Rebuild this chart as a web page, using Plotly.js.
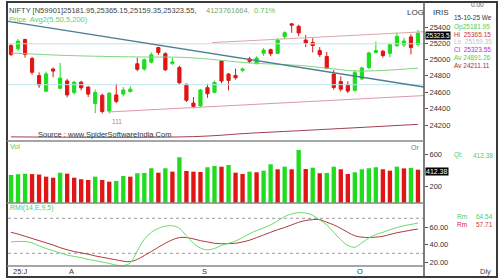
<!DOCTYPE html>
<html><head><meta charset="utf-8">
<script src="https://cdn.plot.ly/plotly-3.0.1.min.js"></script>
<style>html,body{margin:0;padding:0;background:#fff;}#chart{width:500px;height:280px;}</style>
</head><body><div id="chart"></div>
<script>
// ---------------- data ----------------
const dates = ['07-22','07-23','07-24','07-25','07-28','07-29','07-30','07-31',
 '08-01','08-04','08-05','08-06','08-07','08-08','08-11','08-12','08-13','08-14','08-18','08-19','08-20','08-21','08-22','08-25','08-26','08-28','08-29',
 '09-01','09-02','09-03','09-04','09-05','09-08','09-09','09-10','09-11','09-12','09-15','09-16','09-17','09-18','09-19','09-22','09-23','09-24','09-25','09-26','09-29','09-30',
 '10-01','10-03','10-06','10-07','10-08','10-09','10-10','10-13','10-14','10-15'];
const opens = [25170,25130,25245,25010,24800,24610,24880,24645,24735,24595,24720,24660,24460,24560,24370,24565,24575,24605,24945,24880,24965,25145,25070,24950,24900,24695,24466,24432,24653,24597,24980,24819,24802,24865,25005,24945,25075,25119,25073,25280,25441,25410,25238,25209,25108,25035,24818,24728,24691,24620,24759,24899,25085,25100,25074,25168,25177,25277,25181.95];
const highs = [25190,25250,25255,25030,24840,24850,24900,24955,24760,24735,24735,24670,24630,24580,24600,24700,24660,24670,25020,25010,25085,25155,25085,25020,24920,24700,24540,24636,24700,24740,24982,24832,24886,24895,25030,25037,25140,25132,25262,25347,25449,25430,25300,25262,25150,25092,24868,24791,24731,24867,24907,25095,25220,25115,25199,25331,25267,25310,25365.15];
const lows = [25040,25100,25020,24810,24650,24600,24780,24635,24535,24570,24620,24540,24345,24340,24340,24465,24545,24595,24855,24860,24950,25055,24860,24930,24690,24480,24404,24420,24530,24585,24706,24621,24751,24840,24950,24940,25040,25038,25070,25250,25329,25286,25151,25084,25027,24878,24629,24606,24587,24605,24747,24881,25075,25020,25024,25156,25152,25060,25159.35];
const closes = [25060,25225,25060,24840,24685,24820,24855,24770,24565,24720,24650,24575,24595,24365,24585,24487,24625,24635,24877,24995,25055,25085,24870,24968,24712,24500,24427,24625,24580,24715,24734,24741,24773,24880,24975,25015,25114,25069,25239,25330,25424,25327,25202,25170,25057,24891,24655,24635,24611,24836,24894,25078,25108,25046,25182,25285,25227,25145,25323.55];
const volumes = [347,356,362,358,352,326,313,375,363,313,294,285,326,285,264,272,334,326,368,372,430,375,430,388,566,396,388,384,442,458,449,470,375,359,388,380,400,479,417,449,417,656,421,437,368,372,449,417,359,380,417,430,442,417,400,449,428,434,412.38];
const ma50Idx = [0,8,18,24,27,34,41,46,49,53,58];
const ma50Val = [25078,25047,25029,25025,25011,24955,24925,24882,24857,24863,24891.26];
const ma200Idx = [0,26,34,41,49,58];
const ma200Val = [24062,24065,24105,24135,24170,24211.11];
const rmi = [43,43.5,43.5,42,38.5,35.5,33,30.5,28,26.5,25,23,21.5,20,18.5,16.5,16,19,33,46,54,58.5,61,61.5,58.5,50,41.5,36,34,35.5,39,41.5,44,48,52.5,56,59,62.5,67,72,75,76.5,76,73.5,68,62.5,54,45.5,39,37,42,47.5,51.5,54,57,59.5,61.5,63,64.54];
const rmiSignal = [54,52,49.5,47,44.5,42,39.5,36.5,34,32,30.5,29,27,25.5,24,22.5,21,20.5,23,27.5,32,37,41.5,45.5,48,48,46.5,44.5,43,41.5,41,41,41.5,43,45,48,51,54,57,59.5,62.5,65.5,67.5,68.5,68.5,65.5,62.5,58.5,54,50,48.5,48,48.5,49.5,51.5,53.5,55,56.5,57.71];
// trend lines drawn on the chart: [startIdx, endIdx], [startPrice, endPrice]
const trendTealIdx = [-0.43, 58.86], trendTealVal = [25471, 24661];
const trendUpperIdx = [28.7, 58.86], trendUpperVal = [25207, 25342];
const trendLowerIdx = [14.1, 58.86], trendLowerVal = [24360, 24557];
const hLevels = [25192, 24689];
const priceTicks = [24200,24400,24600,24800,25000,25200,25400];
const volTicks = [200,600];
const rmiTicks = [20,40,60];
const rmiBands = [70,30];
const monthNames = {'07':'25:J','08':'A','09':'S','10':'O'};

// ---------------- build ----------------
const idx = dates.map((d,i)=>i);
const GREEN='#1fdc1f', RED='#e01515';
const FONT='Liberation Sans';
const XR=[-0.43,58.86];

const traces = [];
hLevels.forEach(v=>traces.push({type:'scatter',mode:'lines',x:XR,y:[v,v],xaxis:'x',yaxis:'y',line:{color:'#bfe6ee',width:1},hoverinfo:'skip'}));
traces.push({type:'scatter',mode:'lines',x:ma50Idx,y:ma50Val,xaxis:'x',yaxis:'y',line:{color:'#7fd67f',width:1,shape:'spline'},hoverinfo:'skip'});
traces.push({type:'scatter',mode:'lines',x:ma200Idx,y:ma200Val,xaxis:'x',yaxis:'y',line:{color:'#a04050',width:1,shape:'spline'},hoverinfo:'skip'});
traces.push({type:'scatter',mode:'lines',x:trendTealIdx,y:trendTealVal,xaxis:'x',yaxis:'y',line:{color:'#4d7d8e',width:1.3},hoverinfo:'skip'});
traces.push({type:'scatter',mode:'lines',x:trendUpperIdx,y:trendUpperVal,xaxis:'x',yaxis:'y',line:{color:'#dca4ac',width:1},hoverinfo:'skip'});
traces.push({type:'scatter',mode:'lines',x:trendLowerIdx,y:trendLowerVal,xaxis:'x',yaxis:'y',line:{color:'#d89aa4',width:1},hoverinfo:'skip'});
traces.push({type:'candlestick',x:idx,open:opens,high:highs,low:lows,close:closes,xaxis:'x',yaxis:'y',
  increasing:{line:{color:GREEN,width:1},fillcolor:GREEN},decreasing:{line:{color:RED,width:1},fillcolor:RED},
  whiskerwidth:0,hoverinfo:'skip'});
// volume bars: green when volume rose versus the previous day, red when it fell
traces.push({type:'bar',x:idx,y:volumes,xaxis:'x',yaxis:'y2',width:0.62,
  marker:{color:idx.map(i=>(i===0||volumes[i]>=volumes[i-1])?GREEN:RED),line:{width:0}},hoverinfo:'skip'});
rmiBands.forEach(v=>traces.push({type:'scatter',mode:'lines',x:XR,y:[v,v],xaxis:'x',yaxis:'y3',line:{color:'#999',width:1,dash:'dot'},hoverinfo:'skip'}));
traces.push({type:'scatter',mode:'lines',x:idx,y:rmiSignal,xaxis:'x',yaxis:'y3',line:{color:'#b03a3a',width:1,shape:'spline'},hoverinfo:'skip'});
traces.push({type:'scatter',mode:'lines',x:idx,y:rmi,xaxis:'x',yaxis:'y3',line:{color:'#66dd66',width:1,shape:'spline'},hoverinfo:'skip'});

// pixel helpers (plot area x 8..424, y 4..266)
const PX=(px)=>(px-8)/416, PY=(py)=>(266-py)/262;
const ann=(text,px,py,color,size,xa,extra)=>Object.assign({text:text,x:PX(px),y:PY(py),xref:'paper',yref:'paper',showarrow:false,
  xanchor:xa||'left',yanchor:'middle',borderpad:0,font:{family:FONT,size:size||7.5,color:color||'#444'}},extra||{});

const last = closes.length-1;
const fmt=(v)=>v.toFixed(2);
const annotations = [
  ann('NIFTY [N59901]'+[opens[last],highs[last],lows[last],closes[last]].map(fmt).join(',')+',',8,10,'#444',7.5),
  ann('4123761664,',205,10,'#7aa87a',7.5),
  ann('0.71%',253,10,'#5fbf5f',7.5),
  ann('Price  Avg2(5,50,5,200)',8,19,'#66cc66',7.5),
  ann('LOG',415,12,'#333',8,'center'),
  ann('IRIS',441,12,'#333',8,'center'),
  ann('0.00',477,5,'#555',6.5,'center'),
  ann('15-10-25 We',453,17.5,'#333',6.5),
  ann('Op'+fmt(opens[last]),453,26.5,'#55cc55',6.5),
  ann('Hi  '+fmt(highs[last]),453,34.2,'#cc3333',6.5),
  ann('Lo  '+fmt(lows[last]),453,41.9,'#c4c4c4',6.5),
  ann('Cl  '+fmt(closes[last]),453,49.6,'#aa33cc',6.5),
  ann('Av '+fmt(ma50Val[ma50Val.length-1]),453,57.3,'#55cc55',6.5),
  ann('Av '+fmt(ma200Val[ma200Val.length-1]),453,65,'#a03030',6.5),
  ann(closes[last].toFixed(1),425,35.5,'#fff',6.5,'left',{bgcolor:'#000'}),
  ann('Source : www.SpiderSoftwareIndia.Com',37,134,'#333',7.5),
  {text:'111',x:14.1,y:Math.log10(24240),xref:'x',yref:'y',showarrow:false,xanchor:'left',yanchor:'middle',font:{family:FONT,size:6.5,color:'#c07878'}},
  ann('Vol',9,146,'#55cc55',7),
  ann('Or',415,147,'#777',7,'center'),
  ann('Qt:',453,155,'#55cc55',6.5),
  ann(fmt(volumes[last]),472,155,'#55cc55',6.5),
  ann(fmt(volumes[last]),425,171,'#fff',7,'left',{bgcolor:'#000'}),
  ann('RMI(14,E,9,5)',9,208,'#55cc55',7),
  ann('Rm',456,216,'#55cc55',6.5),
  ann(fmt(rmi[last]),475,216,'#55cc55',6.5),
  ann('Rm',456,224,'#cc3333',6.5),
  ann(fmt(rmiSignal[last]),475,224,'#cc3333',6.5),
  ann('Dly',485,271,'#444',7.5,'center')
];
let prevM=null;
dates.forEach((d,i)=>{const m=d.slice(0,2); if(m!==prevM){prevM=m;
  annotations.push({text:monthNames[m],x:i,y:PY(271),xref:'x',yref:'paper',showarrow:false,xanchor:'left',yanchor:'middle',font:{family:FONT,size:7.5,color:'#333'}});}});

const line=(x0,y0,x1,y1,c,w)=>({type:'line',xref:'paper',yref:'paper',x0:PX(x0),y0:PY(y0),x1:PX(x1),y1:PY(y1),line:{color:c,width:w}});
const shapes = [
  {type:'rect',xref:'paper',yref:'paper',x0:PX(7),y0:PY(277),x1:PX(497),y1:PY(2),line:{color:'#3a3a3a',width:2}},
  line(424,2,424,277,'#555',1.5),
  line(7,141,424,141,'#888',1.5),
  line(7,203,424,203,'#888',1.5),
  line(7,266,424,266,'#888',1.5)
];

const yAx=(dom,extra)=>Object.assign({domain:dom,side:'right',showgrid:false,zeroline:false,ticks:'outside',ticklen:3,tickcolor:'#555',
  tickfont:{family:FONT,size:7.5,color:'#333'},fixedrange:true,showline:false,anchor:'x'},extra);

const layout = {
  width:500,height:280,margin:{l:8,r:76,t:4,b:14},paper_bgcolor:'#fff',plot_bgcolor:'#fff',showlegend:false,
  boxgap:0.35,
  xaxis:{range:XR,showgrid:false,zeroline:false,showticklabels:false,ticks:'',anchor:'y3',rangeslider:{visible:false},fixedrange:true},
  yaxis:yAx([PY(141),1],{type:'log',range:[Math.log10(24013),Math.log10(25691)],tickvals:priceTicks,ticktext:priceTicks.map(String)}),
  yaxis2:yAx([PY(203),PY(141)],{range:[0,767],tickvals:volTicks,ticktext:volTicks.map(String)}),
  yaxis3:yAx([0,PY(203)],{range:[15.5,87.5],tickvals:rmiTicks,ticktext:rmiTicks.map(v=>v.toFixed(2))}),
  annotations:annotations,shapes:shapes,hovermode:false
};
Plotly.newPlot('chart',traces,layout,{staticPlot:true,displayModeBar:false});
</script></body></html>
